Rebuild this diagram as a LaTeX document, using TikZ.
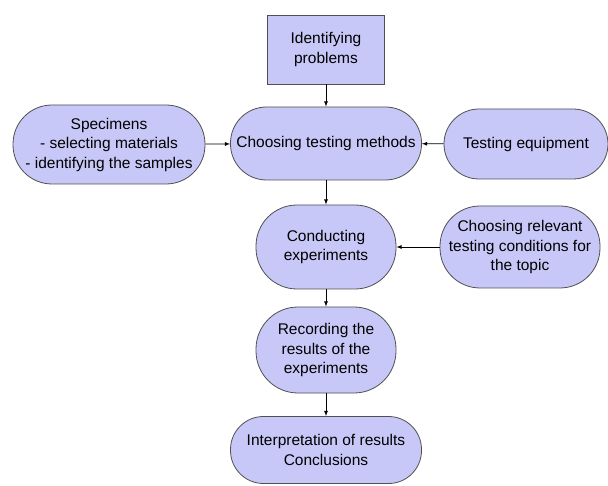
\documentclass[tikz,border=0pt]{standalone}
\usepackage{fontspec}
\setmainfont{Liberation Sans}
\definecolor{boxfill}{RGB}{200,200,248}
\definecolor{boxline}{RGB}{80,80,80}
\begin{document}
\begin{tikzpicture}[x=1pt, y=-1pt,
		box/.style={draw=boxline, fill=boxfill, line width=0.8pt, align=center, inner sep=2pt, font=\fontsize{15.5}{19.5}\selectfont},
		pill/.style={box, rounded corners=#1},
		link/.style={draw=black, line width=0.8pt, -latex}]
		\useasboundingbox (0,0) rectangle (608,486);
		\node[box, minimum width=117pt, minimum height=69pt] (problems) at (326,49.5) {Identifying\\problems};
		\node[pill=36pt, minimum width=191pt, minimum height=73pt] (methods) at (326,143.5) {Choosing testing methods};
		\node[pill=39pt, minimum width=192pt, minimum height=79pt] (specimens) at (109,144.5) {Specimens\\- selecting materials\\- identifying the samples};
		\node[pill=35pt, minimum width=164pt, minimum height=70pt] (equipment) at (526,144) {Testing equipment};
		\node[pill=41pt, minimum width=140pt, minimum height=84pt] (experiments) at (326,247) {Conducting\\experiments};
		\node[pill=40pt, minimum width=160pt, minimum height=82pt] (conditions) at (520,247) {Choosing relevant\\testing conditions for\\the topic};
		\node[pill=42pt, minimum width=140pt, minimum height=86pt] (recording) at (326,350) {Recording the\\results of the\\ experiments};
		\node[pill=33pt, minimum width=191pt, minimum height=67pt] (results) at (326,450) {Interpretation of results\\Conclusions};
		\draw[link] (problems) -- (methods);
		\draw[link] (specimens) -- (methods);
		\draw[link] (equipment) -- (methods);
		\draw[link] (methods) -- (experiments);
		\draw[link] (conditions) -- (experiments);
		\draw[link] (experiments) -- (recording);
		\draw[link] (recording) -- (results);
	\end{tikzpicture}
\end{document}
